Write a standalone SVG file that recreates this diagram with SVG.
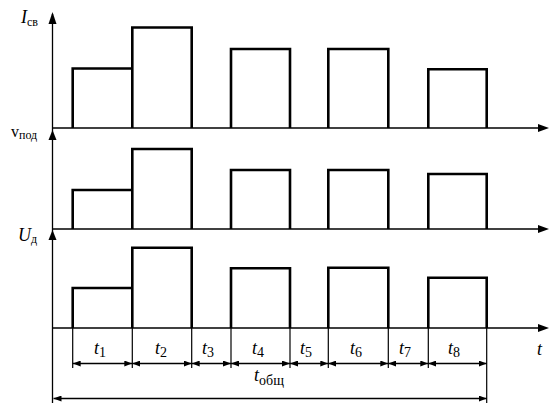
<svg xmlns="http://www.w3.org/2000/svg" width="550" height="403" viewBox="0 0 550 403">
<style>
.ax{stroke:#000;stroke-width:1.3;fill:none}
.sig{stroke:#000;stroke-width:2.6;fill:none;stroke-linejoin:miter}
.ext{stroke:#000;stroke-width:1.2;fill:none}
.dim{stroke:#000;stroke-width:1.3;fill:none;marker-start:url(#da);marker-end:url(#da)}
.v{font-family:"Liberation Serif",serif;font-style:italic;font-size:18px;fill:#000}
.u{font-family:"Liberation Serif",serif;font-style:normal;font-size:16px;fill:#000}
.s{font-family:"Liberation Serif",serif;font-style:normal;font-size:12px;fill:#000}
.sn{font-family:"Liberation Serif",serif;font-style:normal;font-size:14px;fill:#000}
</style>
<defs>
<marker id="da" viewBox="0 0 8 6" refX="8" refY="3" markerWidth="8" markerHeight="6" markerUnits="userSpaceOnUse" orient="auto-start-reverse">
<path d="M0,0 L8,3 L0,6 Z" fill="#000"/>
</marker>
</defs>
<g id="axes">
<line class="ax" x1="52.5" y1="14" x2="52.5" y2="403"/>
<path d="M52.5,12 L48.5,24 L56.5,24 Z"/>
<path d="M52.5,130 L48.5,140 L56.5,140 Z"/>
<path d="M52.5,230 L48.5,240 L56.5,240 Z"/>
<line class="ax" x1="52.5" y1="128" x2="540" y2="128"/>
<path d="M549,128 L538,124 L538,132 Z"/>
<line class="ax" x1="52.5" y1="229" x2="540" y2="229"/>
<path d="M549,229 L538,225 L538,233 Z"/>
<line class="ax" x1="52.5" y1="328" x2="540" y2="328"/>
<path d="M549,328 L538,324 L538,332 Z"/>
</g>
<g id="signal-Icv">
<path class="sig" d="M72.7,128 V68.5 H132.3 V128 M132.3,128 V27.5 H191.7 V128"/>
<path class="sig" d="M231,128 V49 H290 V128"/>
<path class="sig" d="M328.3,128 V49 H388.3 V128"/>
<path class="sig" d="M428.3,128 V69.3 H486.7 V128"/>
</g>
<g id="signal-vpod">
<path class="sig" d="M72.7,229 V190 H132.3 V229 M132.3,229 V149 H191.7 V229"/>
<path class="sig" d="M231,229 V170 H290 V229"/>
<path class="sig" d="M328.3,229 V170 H388.3 V229"/>
<path class="sig" d="M428.3,229 V174 H486.7 V229"/>
</g>
<g id="signal-Ud">
<path class="sig" d="M72.7,328 V288 H132.3 V328 M132.3,328 V247.7 H191.7 V328"/>
<path class="sig" d="M231,328 V268.3 H290 V328"/>
<path class="sig" d="M328.3,328 V267.7 H388.3 V328"/>
<path class="sig" d="M428.3,328 V277.7 H486.7 V328"/>
</g>
<g id="connectors">
<line class="ext" x1="72.7" y1="328" x2="72.7" y2="368"/>
<line class="ext" x1="132.3" y1="328" x2="132.3" y2="368"/>
<line class="ext" x1="191.7" y1="328" x2="191.7" y2="368"/>
<line class="ext" x1="231" y1="328" x2="231" y2="368"/>
<line class="ext" x1="290" y1="328" x2="290" y2="368"/>
<line class="ext" x1="328.3" y1="328" x2="328.3" y2="368"/>
<line class="ext" x1="388.3" y1="328" x2="388.3" y2="368"/>
<line class="ext" x1="428.3" y1="328" x2="428.3" y2="368"/>
<line class="ext" x1="486.7" y1="328" x2="486.7" y2="403"/>
<line class="dim" x1="72.7" y1="363.5" x2="132.3" y2="363.5"/>
<line class="dim" x1="132.3" y1="363.5" x2="191.7" y2="363.5"/>
<line class="dim" x1="191.7" y1="363.5" x2="231" y2="363.5"/>
<line class="dim" x1="231" y1="363.5" x2="290" y2="363.5"/>
<line class="dim" x1="290" y1="363.5" x2="328.3" y2="363.5"/>
<line class="dim" x1="328.3" y1="363.5" x2="388.3" y2="363.5"/>
<line class="dim" x1="388.3" y1="363.5" x2="428.3" y2="363.5"/>
<line class="dim" x1="428.3" y1="363.5" x2="486.7" y2="363.5"/>
<line class="dim" x1="53.5" y1="398.5" x2="486.7" y2="398.5"/>
</g>
<g id="labels">
<text class="v" x="21" y="23">I<tspan class="s" dy="3">св</tspan></text>
<text class="u" x="11" y="137">v<tspan class="s" dy="2">под</tspan></text>
<text class="v" x="18" y="241">U<tspan class="s" dy="2">д</tspan></text>
<text class="v" x="94" y="354">t<tspan class="sn" dy="3">1</tspan></text>
<text class="v" x="155" y="354">t<tspan class="sn" dy="3">2</tspan></text>
<text class="v" x="202" y="354">t<tspan class="sn" dy="3">3</tspan></text>
<text class="v" x="252" y="354">t<tspan class="sn" dy="3">4</tspan></text>
<text class="v" x="300" y="354">t<tspan class="sn" dy="3">5</tspan></text>
<text class="v" x="350" y="354">t<tspan class="sn" dy="3">6</tspan></text>
<text class="v" x="399" y="354">t<tspan class="sn" dy="3">7</tspan></text>
<text class="v" x="448" y="354">t<tspan class="sn" dy="3">8</tspan></text>
<text class="v" x="254" y="381">t<tspan class="sn" dy="4">общ</tspan></text>
<text class="v" x="537" y="355">t</text>
</g>
</svg>
